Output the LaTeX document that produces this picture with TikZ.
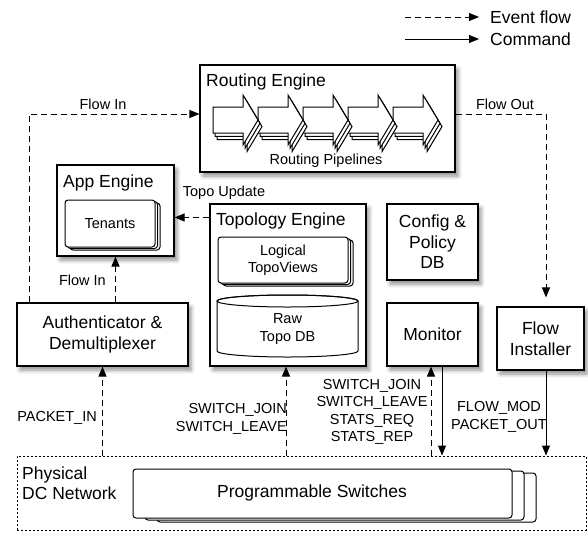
\documentclass[tikz,border=0pt]{standalone}
\usepackage{fontspec}
\setmainfont{Liberation Sans}
\usetikzlibrary{arrows.meta,calc,shadows.blur}
\begin{document}
\begin{tikzpicture}[x=1pt,y=-1pt,
  big/.style={font=\fontsize{17.5}{20.5}\selectfont},
  small/.style={font=\fontsize{14.5}{17.5}\selectfont},
  box/.style={draw, line width=1.1pt, fill=white, inner sep=0pt, align=center,
    blur shadow={shadow xshift=3pt, shadow yshift=-4pt, shadow blur radius=4pt, shadow opacity=45}},
  ev/.style={line width=1pt, dash pattern=on 6pt off 4pt, -{Triangle[length=10pt,width=8pt]}},
  cmd/.style={line width=1pt, -{Triangle[length=10pt,width=8pt]}},
  stackbox/.style={draw, line width=1pt, fill=white, rounded corners=3pt, inner sep=0pt, align=center},
  smallstack/.style={stackbox,
    preaction={draw, fill=white, transform canvas={shift={(5pt,-3pt)}}},
    preaction={draw, fill=white, transform canvas={shift={(2.5pt,-1.5pt)}}}},
  bigstack/.style={stackbox,
    preaction={draw, fill=white, transform canvas={shift={(24pt,-4pt)}}},
    preaction={draw, fill=white, transform canvas={shift={(12pt,-2pt)}}}},
  pipe/.style={draw, line width=1pt, fill=white, line join=miter},
  net/.style={draw, line width=1pt, dash pattern=on 2pt off 2pt, inner sep=0pt}
]
\useasboundingbox (0,0) rectangle (588,533);

% legend
\coordinate (l1a) at (405,17);
\coordinate (l1b) at (479,17);
\coordinate (l2a) at (405,39);
\coordinate (l2b) at (479,39);
\draw[ev] (l1a) -- (l1b);
\draw[cmd] (l2a) -- (l2b);
\node[big, anchor=west, inner sep=0pt] (l1t) at (490,17) {Event flow};
\node[big, anchor=west, inner sep=0pt] (l2t) at (490,39) {Command};

% routing engine
\node[box, minimum width=255pt, minimum height=107pt] (re) at (327.5,118.5) {};
\node[big, anchor=west, inner sep=0pt] (ret) at (206,82) {Routing Engine};
\foreach \k in {4,3,2,1,0}{
  \foreach \j in {2,1,0}{
    \begin{scope}[shift={({213+45*\k+2*\j},{120+3.3*\j})}]
      \draw[pipe] (0,-13) -- (30,-13) -- (30,-25) -- (45,0) -- (30,25) -- (30,13) -- (0,13) -- cycle;
    \end{scope}
  }
}
\node[small, inner sep=0pt] (rp) at (326,161) {Routing Pipelines};

% app engine
\node[box, minimum width=117pt, minimum height=91pt] (app) at (115.5,210.5) {};
\node[big, anchor=west, inner sep=0pt] (appt) at (63,183) {App Engine};
\node[smallstack, small, minimum width=90pt, minimum height=47pt] (ten) at (110,223.5) {Tenants};

% topology engine
\node[box, minimum width=156pt, minimum height=162pt] (topo) at (288,285) {};
\node[big, anchor=west, inner sep=0pt] (topot) at (216,221) {Topology Engine};
\node[smallstack, small, minimum width=130pt, minimum height=46pt] (ltv) at (283,260) {Logical\\TopoViews};
\path[draw, fill=white, line width=1pt] (217,301) -- (217,351)
  arc[start angle=180, end angle=360, x radius=70.5pt, y radius=6pt] -- (358,301)
  arc[start angle=0, end angle=180, x radius=70.5pt, y radius=6pt] -- cycle;
\draw[line width=1pt] (287.5,301) ellipse [x radius=70.5pt, y radius=6pt];
\node[small, align=center, inner sep=0pt] (rawdb) at (287.5,329) {Raw\\Topo DB};

% other boxes
\node[box, big, minimum width=91pt, minimum height=76pt] (cfg) at (432.5,242) {Config \&\\Policy\\DB};
\node[box, big, minimum width=91pt, minimum height=63pt] (mon) at (432.5,334.5) {Monitor};
\node[box, big, minimum width=87pt, minimum height=63pt] (fi) at (540.5,338.5) {Flow\\Installer};
\node[box, big, minimum width=171pt, minimum height=63pt] (auth) at (102.5,334.5) {Authenticator \&\\Demultiplexer};

% physical network
\node[net, minimum width=569pt, minimum height=74pt] (phys) at (301.5,493) {};
\node[big, anchor=west, align=left, inner sep=0pt] (physt) at (22,483) {Physical\\DC Network};
\node[bigstack, minimum width=379pt, minimum height=49pt] (sw) at (322.5,493.5) {};
\node[big, inner sep=0pt] (swt) at (312,493) {Programmable Switches};

% connectors
\draw[ev] ($(auth.north west)+(13,0)$) |- ($(re.west)+(0,-4.5)$);
\node[small, inner sep=0pt] (fin1) at (103,104) {Flow In};
\draw[ev] (app.south |- auth.north) -- (app.south);
\node[small, anchor=east, inner sep=0pt] (fin2) at (106,280) {Flow In};
\coordinate (tu) at ($(topo.north west)+(0,14)$);
\draw[ev] (tu) -- (tu -| app.east);
\node[small, inner sep=0pt] (tut) at (224,193) {Topo Update};
\draw[ev] ($(re.north east)+(0,50)$) -| ($(fi.north)+(5.5,-9)$);
\node[small, inner sep=0pt] (fout) at (505,104) {Flow Out};

\draw[ev] (auth.south |- phys.north) -- (auth.south);
\node[small, anchor=east, inner sep=0pt] (pin) at (97,418) {PACKET\_IN};
\coordinate (t1) at ($(topo.south)+(-2,0)$);
\draw[ev] (t1 |- phys.north) -- (t1);
\node[small, anchor=east, align=right, inner sep=0pt] (tsw) at (287,419) {SWITCH\_JOIN\\SWITCH\_LEAVE};
\coordinate (m1) at ($(mon.south)+(-1.5,0)$);
\coordinate (m2) at ($(mon.south)+(9.5,0)$);
\draw[ev] (m1 |- phys.north) -- (m1);
\draw[cmd] (m2) -- (m2 |- phys.north);
\node[small, align=center, inner sep=0pt] (msw) at (372,412) {SWITCH\_JOIN\\SWITCH\_LEAVE\\STATS\_REQ\\STATS\_REP};
\coordinate (f1) at ($(fi.south)+(5.5,0)$);
\draw[cmd] (f1) -- (f1 |- phys.north);
\node[small, align=center, inner sep=0pt] (fmod) at (499,417) {FLOW\_MOD\\PACKET\_OUT};
\end{tikzpicture}
\end{document}
